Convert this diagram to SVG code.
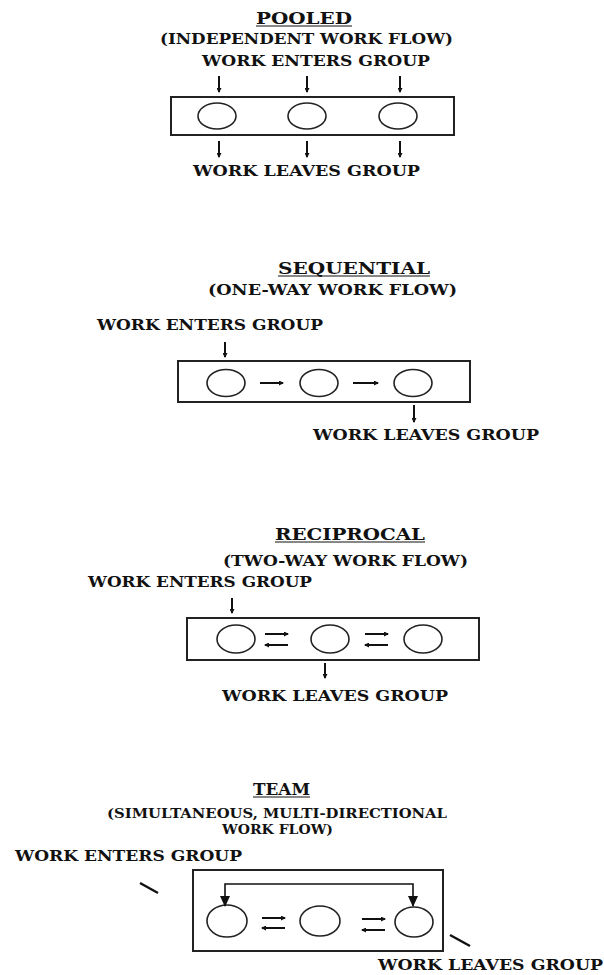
<svg xmlns="http://www.w3.org/2000/svg" width="604" height="975" viewBox="0 0 604 975">
<style>
  text { font-family: "DejaVu Serif", "Liberation Serif", serif; font-weight: bold; fill: #111; }
  .title { font-size: 16px; }
  .sub { font-size: 14px; }
  .sub2 { font-size: 12.5px; }
  .lbl { font-size: 14px; }
  .box { fill: none; stroke: #222; stroke-width: 2; }
  .node { fill: none; stroke: #222; stroke-width: 1.6; }
  .ul { stroke: #111; stroke-width: 1.2; }
  .arr { stroke: #111; stroke-width: 2; fill: none; marker-end: url(#sm); }
  .big { stroke: #111; stroke-width: 1.6; fill: none; marker-end: url(#bg); }
  .tick { stroke: #111; stroke-width: 2.4; }
</style>
<defs>
  <marker id="sm" markerUnits="userSpaceOnUse" markerWidth="5" markerHeight="5" refX="4" refY="2.5" orient="auto">
    <path d="M0,0 L5,2.5 L0,5 z" fill="#111"/>
  </marker>
  <marker id="bg" markerUnits="userSpaceOnUse" markerWidth="11" markerHeight="10" refX="10" refY="5" orient="auto">
    <path d="M0,0 L11,5 L0,10 z" fill="#111"/>
  </marker>
</defs>

<!-- POOLED -->
<g id="pooled">
  <text class="title" x="256" y="24" textLength="96" lengthAdjust="spacingAndGlyphs">POOLED</text>
  <line class="ul" x1="256" y1="26" x2="352" y2="26"/>
  <text class="sub" x="160" y="44" textLength="293" lengthAdjust="spacingAndGlyphs">(INDEPENDENT WORK FLOW)</text>
  <text class="lbl" x="202" y="66" textLength="228" lengthAdjust="spacingAndGlyphs">WORK ENTERS GROUP</text>
  <text class="lbl" x="193" y="176" textLength="227" lengthAdjust="spacingAndGlyphs">WORK LEAVES GROUP</text>
  <rect id="pooled-group" class="box" x="171" y="97" width="283" height="38"/>
  <g id="pooled-n1"><ellipse class="node" cx="217" cy="116" rx="19" ry="13"/></g>
  <g id="pooled-n2"><ellipse class="node" cx="307" cy="116" rx="19" ry="13"/></g>
  <g id="pooled-n3"><ellipse class="node" cx="398" cy="116" rx="19" ry="13"/></g>
</g>

<!-- SEQUENTIAL -->
<g id="sequential">
  <text class="title" x="278" y="274" textLength="152" lengthAdjust="spacingAndGlyphs">SEQUENTIAL</text>
  <line class="ul" x1="278" y1="276" x2="430" y2="276"/>
  <text class="sub" x="208" y="295" textLength="249" lengthAdjust="spacingAndGlyphs">(ONE-WAY WORK FLOW)</text>
  <text class="lbl" x="97" y="330" textLength="226" lengthAdjust="spacingAndGlyphs">WORK ENTERS GROUP</text>
  <text class="lbl" x="313" y="440" textLength="226" lengthAdjust="spacingAndGlyphs">WORK LEAVES GROUP</text>
  <rect id="sequential-group" class="box" x="178" y="361" width="292" height="41"/>
  <g id="seq-n1"><ellipse class="node" cx="226" cy="383" rx="19" ry="13.5"/></g>
  <g id="seq-n2"><ellipse class="node" cx="319" cy="383" rx="19" ry="13.5"/></g>
  <g id="seq-n3"><ellipse class="node" cx="413" cy="383" rx="19" ry="13.5"/></g>
</g>

<!-- RECIPROCAL -->
<g id="reciprocal">
  <text class="title" x="275" y="540" textLength="150" lengthAdjust="spacingAndGlyphs">RECIPROCAL</text>
  <line class="ul" x1="275" y1="542" x2="425" y2="542"/>
  <text class="sub" x="223" y="566" textLength="245" lengthAdjust="spacingAndGlyphs">(TWO-WAY WORK FLOW)</text>
  <text class="lbl" x="88" y="587" textLength="224" lengthAdjust="spacingAndGlyphs">WORK ENTERS GROUP</text>
  <text class="lbl" x="222" y="701" textLength="226" lengthAdjust="spacingAndGlyphs">WORK LEAVES GROUP</text>
  <rect id="reciprocal-group" class="box" x="187" y="618" width="292" height="42"/>
  <g id="rec-n1"><ellipse class="node" cx="236" cy="639" rx="19" ry="14"/></g>
  <g id="rec-n2"><ellipse class="node" cx="330" cy="639" rx="19" ry="14"/></g>
  <g id="rec-n3"><ellipse class="node" cx="423" cy="639" rx="19" ry="14"/></g>
</g>

<!-- TEAM -->
<g id="team">
  <text class="title" x="253" y="795" textLength="57" lengthAdjust="spacingAndGlyphs">TEAM</text>
  <line class="ul" x1="253" y1="797" x2="310" y2="797"/>
  <text class="sub2" x="107" y="818" textLength="340" lengthAdjust="spacingAndGlyphs">(SIMULTANEOUS, MULTI-DIRECTIONAL</text>
  <text class="sub2" x="222" y="834" textLength="111" lengthAdjust="spacingAndGlyphs">WORK FLOW)</text>
  <text class="lbl" x="15" y="861" textLength="227" lengthAdjust="spacingAndGlyphs">WORK ENTERS GROUP</text>
  <text class="lbl" x="378" y="970" textLength="225" lengthAdjust="spacingAndGlyphs">WORK LEAVES GROUP</text>
  <rect id="team-group" class="box" x="193" y="870" width="250" height="81"/>
  <g id="team-n1"><ellipse class="node" cx="227" cy="921" rx="20" ry="16"/></g>
  <g id="team-n2"><ellipse class="node" cx="320" cy="921" rx="20" ry="15"/></g>
  <g id="team-n3"><ellipse class="node" cx="414" cy="922" rx="19" ry="15"/></g>
</g>

<!-- CONNECTORS -->
<g id="connectors">
  <!-- pooled -->
  <line class="arr" x1="219" y1="76" x2="219" y2="92"/>
  <line class="arr" x1="307" y1="76" x2="307" y2="92"/>
  <line class="arr" x1="400" y1="76" x2="400" y2="92"/>
  <line class="arr" x1="219" y1="141" x2="219" y2="157"/>
  <line class="arr" x1="307" y1="141" x2="307" y2="157"/>
  <line class="arr" x1="400" y1="141" x2="400" y2="157"/>
  <!-- sequential -->
  <line class="arr" x1="225" y1="342" x2="225" y2="357"/>
  <line class="arr" x1="260" y1="383" x2="283" y2="383"/>
  <line class="arr" x1="353" y1="383" x2="378" y2="383"/>
  <line class="arr" x1="414" y1="405" x2="414" y2="422"/>
  <!-- reciprocal -->
  <line class="arr" x1="232" y1="598" x2="232" y2="613"/>
  <line class="arr" x1="265" y1="634" x2="288" y2="634"/>
  <line class="arr" x1="288" y1="645" x2="265" y2="645"/>
  <line class="arr" x1="365" y1="634" x2="388" y2="634"/>
  <line class="arr" x1="388" y1="645" x2="365" y2="645"/>
  <line class="arr" x1="325" y1="663" x2="325" y2="678"/>
  <!-- team -->
  <line class="tick" x1="140" y1="883" x2="158" y2="893"/>
  <line class="tick" x1="450" y1="935" x2="470" y2="946"/>
  <path class="big" d="M319,884 H225 V906"/>
  <path class="big" d="M319,884 H413 V906"/>
  <line class="arr" x1="262" y1="918" x2="285" y2="918"/>
  <line class="arr" x1="285" y1="928" x2="262" y2="928"/>
  <line class="arr" x1="362" y1="919" x2="385" y2="919"/>
  <line class="arr" x1="385" y1="930" x2="362" y2="930"/>
</g>
</svg>
